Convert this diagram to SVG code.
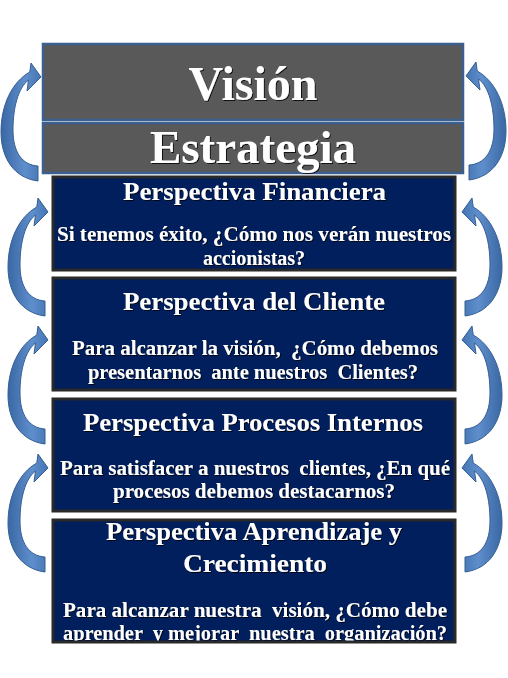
<svg xmlns="http://www.w3.org/2000/svg" width="508" height="678" viewBox="0 0 508 678">
<style>
.top{fill:#595959;stroke:#3b5f8f;stroke-width:2.5}
.nav{fill:#021f5d;stroke:#292929;stroke-width:3}
.big{font-family:"Liberation Serif","Times New Roman",serif;font-weight:bold;fill:#ffffff;text-anchor:middle}
.tt{font-family:"Liberation Serif","Times New Roman",serif;font-weight:bold;fill:#ffffff;font-size:26px}
.bd{font-family:"Liberation Serif","Times New Roman",serif;font-weight:bold;fill:#ffffff;font-size:20px;white-space:pre}
.arr{fill:url(#ag);stroke:#355e93;stroke-width:1}
</style>
<defs>
<linearGradient id="ag" x1="0" y1="0" x2="1" y2="0">
<stop offset="0" stop-color="#3a68a5"/>
<stop offset="0.6" stop-color="#5e8ecb"/>
<stop offset="1" stop-color="#4575b2"/>
</linearGradient>
<filter id="sh" x="-5%" y="-20%" width="110%" height="140%">
<feDropShadow dx="1" dy="1" stdDeviation="0.6" flood-color="#000000" flood-opacity="0.8"/>
</filter>
<clipPath id="c4"><rect x="54.5" y="521.5" width="399" height="119"/></clipPath>
<path id="arrow" d="M38,181 C14,178 1,158 1,132 C1,105 12,82 29.8,72 L31,63 L41,77 L27,91 L28.5,80 C18,88 13,108 13,130 C13,152 22,165 38,166 Z"/>
</defs>

<g id="connectors">
<use href="#arrow" class="arr"/>
<use href="#arrow" class="arr" transform="translate(7,135)"/>
<use href="#arrow" class="arr" transform="translate(7,263)"/>
<use href="#arrow" class="arr" transform="translate(7,391)"/>
<use href="#arrow" class="arr" transform="matrix(-1,0,0,1,507,-1)"/>
<use href="#arrow" class="arr" transform="matrix(-1,0,0,1,503,135)"/>
<use href="#arrow" class="arr" transform="matrix(-1,0,0,1,503,263)"/>
<use href="#arrow" class="arr" transform="matrix(-1,0,0,1,503,391)"/>
</g>

<g id="vision">
<rect class="top" x="43" y="44" width="420" height="76"/>
<text class="big" x="253" y="100" font-size="48" filter="url(#sh)">Visión</text>
</g>

<g id="estrategia">
<rect class="top" x="43" y="123" width="420" height="50"/>
<text class="big" x="253" y="163" font-size="47" filter="url(#sh)">Estrategia</text>
</g>

<g id="financiera">
<rect class="nav" x="53" y="177" width="402" height="93"/>
<g filter="url(#sh)">
<text class="tt" x="123" y="200" textLength="263" lengthAdjust="spacingAndGlyphs">Perspectiva Financiera</text>
<text class="bd" x="57" y="241" textLength="394" lengthAdjust="spacingAndGlyphs">Si tenemos éxito, ¿Cómo nos verán nuestros</text>
<text class="bd" x="254" y="265" text-anchor="middle">accionistas?</text>
</g>
</g>

<g id="cliente">
<rect class="nav" x="53" y="278" width="402" height="112"/>
<g filter="url(#sh)">
<text class="tt" x="123" y="310" textLength="262" lengthAdjust="spacingAndGlyphs">Perspectiva del Cliente</text>
<text class="bd" x="72" y="355" textLength="366" lengthAdjust="spacingAndGlyphs">Para alcanzar la visión,  ¿Cómo debemos</text>
<text class="bd" x="88" y="379" textLength="330" lengthAdjust="spacingAndGlyphs">presentarnos  ante nuestros  Clientes?</text>
</g>
</g>

<g id="procesos">
<rect class="nav" x="53" y="399" width="402" height="112"/>
<g filter="url(#sh)">
<text class="tt" x="83" y="431" textLength="340" lengthAdjust="spacingAndGlyphs">Perspectiva Procesos Internos</text>
<text class="bd" x="60" y="475" textLength="390" lengthAdjust="spacingAndGlyphs">Para satisfacer a nuestros  clientes, ¿En qué</text>
<text class="bd" x="113" y="498" textLength="282" lengthAdjust="spacingAndGlyphs">procesos debemos destacarnos?</text>
</g>
</g>

<g id="aprendizaje">
<rect class="nav" x="53" y="520" width="402" height="122"/>
<g filter="url(#sh)" clip-path="url(#c4)">
<text class="tt" x="106" y="540" textLength="296" lengthAdjust="spacingAndGlyphs">Perspectiva Aprendizaje y</text>
<text class="tt" x="183" y="572" textLength="144" lengthAdjust="spacingAndGlyphs">Crecimiento</text>
<text class="bd" x="63" y="617" textLength="384" lengthAdjust="spacingAndGlyphs">Para alcanzar nuestra  visión, ¿Cómo debe</text>
<text class="bd" x="63" y="640" textLength="384" lengthAdjust="spacingAndGlyphs">aprender  y mejorar  nuestra  organización?</text>
</g>
</g>
</svg>
